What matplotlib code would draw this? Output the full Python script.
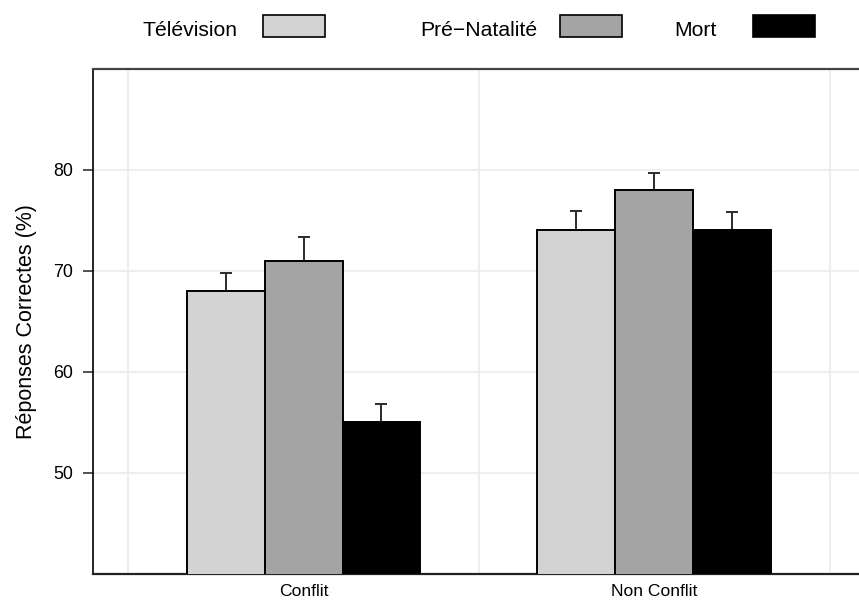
import matplotlib
matplotlib.use("Agg")
import matplotlib.pyplot as plt
from matplotlib.patches import Rectangle
import numpy as np

plt.rcParams['font.family'] = ['Liberation Sans', 'DejaVu Sans']

groups = ["Conflit", "Non Conflit"]
series = ["Télévision", "Pré\u2212Natalité", "Mort"]
values = {
    "Télévision": [68.0, 74.0],
    "Pré\u2212Natalité": [71.0, 78.0],
    "Mort": [55.0, 74.0],
}
err_upper = {
    "Télévision": [1.8, 1.9],
    "Pré\u2212Natalité": [2.3, 1.7],
    "Mort": [1.8, 1.8],
}
colors = ["#d3d3d3", "#a4a4a4", "#000000"]
yticks = [50, 60, 70, 80]

W, H = 859, 601
fig = plt.figure(figsize=(W / 100, H / 100), dpi=100)
ax = fig.add_axes([0.1085, 0.045, 0.8915, 0.841])

x = np.array([1.0, 2.0])
width = 0.222
for i, s in enumerate(series):
    pos = x + (i - 1) * width
    ax.bar(pos, values[s], width=width, bottom=0, color=colors[i],
           edgecolor="black", linewidth=1.4, zorder=3, label=s)
    ax.errorbar(pos, values[s], yerr=[np.zeros(len(pos)), err_upper[s]],
                fmt="none", ecolor="#2b2b2b", elinewidth=1.4, capsize=4,
                capthick=1.4, zorder=2)

ax.set_ylim(40, 90)
ax.set_xlim(0.4, 2.584)
ax.set_yticks(yticks)
ax.set_yticklabels([str(t) for t in yticks], fontsize=12.8)
ax.set_xticks(x)
ax.set_xticklabels(groups, fontsize=12.6)
ax.set_xticks([0.5, 1.0, 1.5, 2.0, 2.5], minor=True)
ax.tick_params(axis="x", which="both", length=0, pad=7)
ax.tick_params(axis="y", length=7.5, width=1.2, color="#333333", pad=7)
ax.grid(True, axis="y", color="#ebebeb", linewidth=1.2, zorder=0)
ax.grid(True, axis="x", which="minor", color="#ebebeb", linewidth=1.2, zorder=0)
ax.set_axisbelow(True)

ax.spines["right"].set_visible(False)
ax.spines["top"].set_color("#444444")
ax.spines["top"].set_linewidth(1.6)
ax.spines["left"].set_color("black")
ax.spines["left"].set_linewidth(1.2)
ax.spines["bottom"].set_color("#222222")
ax.spines["bottom"].set_linewidth(1.6)

ax.set_ylabel("Réponses Correctes (%)", fontsize=15.5, labelpad=12)

# legend along the top (layout positions in pixels)
text_right = [238, 537, 717]
patch_left = [263, 560, 753]
patch_w, patch_top, patch_bot = 62, 15, 37
text_baseline = 36
for i, s in enumerate(series):
    fig.text(text_right[i] / W, 1 - text_baseline / H, s, ha="right",
             va="baseline", fontsize=15.2)
    fig.patches.append(Rectangle((patch_left[i] / W, 1 - patch_bot / H),
                                 patch_w / W, (patch_bot - patch_top) / H,
                                 transform=fig.transFigure, figure=fig,
                                 facecolor=colors[i], edgecolor="black",
                                 linewidth=1.2))

fig.savefig("out.png", dpi=100)
